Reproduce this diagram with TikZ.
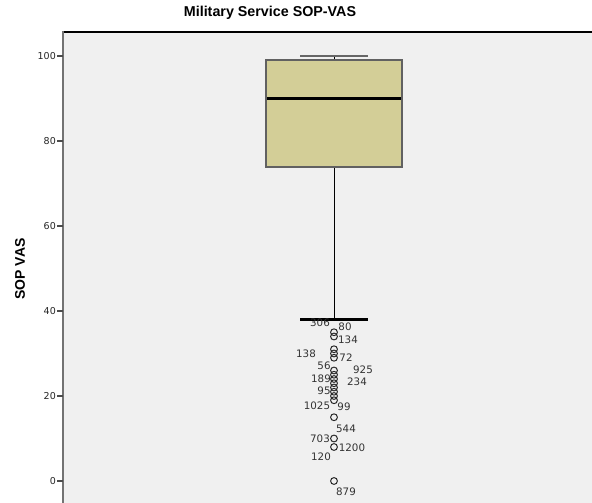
\documentclass[tikz,border=0pt]{standalone}
\usepackage{fontspec}
\setmainfont{DejaVu Sans}
\newfontfamily\titlefont{Liberation Sans}
\begin{document}
\begin{tikzpicture}[x=1pt,y=-1pt,
  ticklabel/.style={anchor=east,inner sep=0pt,font=\fontsize{9.5}{10}\selectfont,text=black!85},
  outl/.style={inner sep=0pt,font=\fontsize{10.3}{11}\selectfont,text=black!80},
  outc/.style={draw=black!85,line width=1pt,circle,minimum size=6.8pt,inner sep=0pt},
  boxst/.style={fill=boxfill,draw=black!62,line width=2pt},
  whisk/.style={black,line width=0.8pt},
]
\definecolor{boxfill}{RGB}{211,206,151}
\definecolor{plotbg}{RGB}{240,240,240}
\useasboundingbox (0,0) rectangle (592,503);
\fill[white] (0,0) rectangle (592,503);
% plot area
\fill[plotbg] (63,32) rectangle (592,503);
\draw[black,line width=1.3pt] (63,32) -- (592,32);
\draw[black!55,line width=2.5pt] (63,31.5) -- (63,503);
% ticks
\foreach \v in {0,20,40,60,80,100}{
  \draw[black!70,line width=1.3pt] (57,{481-4.25*\v}) -- (63,{481-4.25*\v});
  \node[ticklabel] (t\v) at (56,{481-4.25*\v}) {\v};
}
% title and axis label
\node[font=\titlefont\bfseries\fontsize{14.3}{16}\selectfont] (title) at (270,13) {Military Service SOP-VAS};
\node[font=\titlefont\bfseries\fontsize{14}{16}\selectfont,rotate=90] (ylab) at (20,269) {SOP VAS};
% box
\coordinate (q3) at (334,{481-4.25*99});
\coordinate (q1) at (334,{481-4.25*74});
\coordinate (wtop) at (334,{481-4.25*100});
\coordinate (wbot) at (334,{481-4.25*38});
\draw[whisk] (q1) -- (wbot);
\draw[whisk] (q3) -- (wtop);
\draw[black!60,line width=2pt] (300,{481-4.25*100}) -- (368,{481-4.25*100});
\draw[black,line width=2.4pt] (300,{481-4.25*38}) -- (368,{481-4.25*38});
\draw[boxst] (266,{481-4.25*99}) rectangle (402,{481-4.25*74});
\draw[black,line width=2.4pt] (267,{481-4.25*90}) -- (401,{481-4.25*90});
% outliers
\foreach \v [count=\i] in {35,34,31,30,29,26,25,24,23,22,21,20,19,15,10,8,0}{
  \node[outc] (o\i) at (334,{481-4.25*\v}) {};
}
% outlier labels
\node[outl] (l306) at (320,323) {306};
\node[outl] (l80) at (345,327) {80};
\node[outl] (l134) at (348,340) {134};
\node[outl] (l138) at (306,354) {138};
\node[outl] (l72) at (346,358) {72};
\node[outl] (l56) at (324,366) {56};
\node[outl] (l925) at (363,370) {925};
\node[outl] (l189) at (321,379) {189};
\node[outl] (l234) at (357,382) {234};
\node[outl] (l95) at (324,391) {95};
\node[outl] (l1025) at (317,406) {1025};
\node[outl] (l99) at (344,407) {99};
\node[outl] (l544) at (346,429) {544};
\node[outl] (l703) at (320,439) {703};
\node[outl] (l1200) at (352,448) {1200};
\node[outl] (l120) at (321,457) {120};
\node[outl] (l879) at (346,492) {879};
\end{tikzpicture}
\end{document}
